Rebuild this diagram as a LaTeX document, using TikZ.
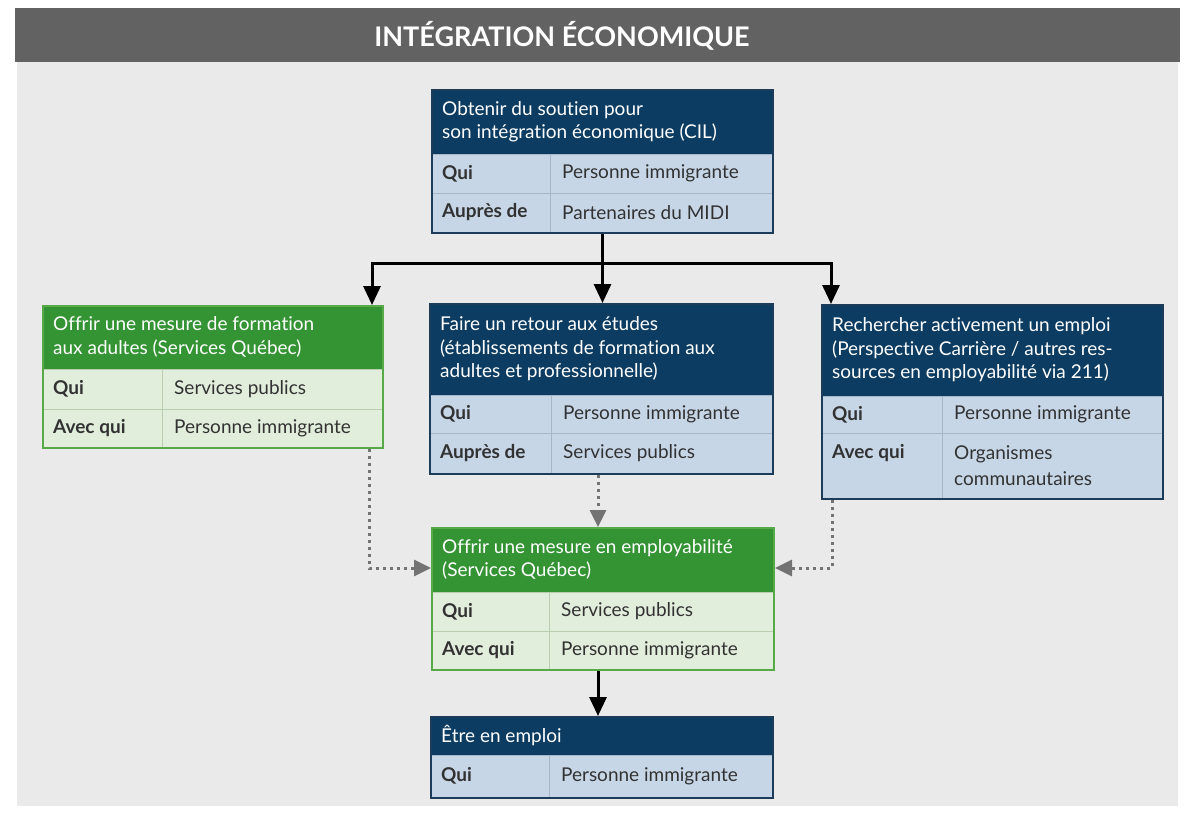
\documentclass[tikz,border=0pt]{standalone}
\usepackage{fontspec}
\setmainfont{Lato}[Ligatures=NoCommon]
\usetikzlibrary{arrows.meta}
\definecolor{cBlueHdr}{RGB}{12,60,98}
\definecolor{cBlueRow}{RGB}{199,214,231}
\definecolor{cBlueLine}{RGB}{28,60,90}
\definecolor{cBlueSep}{RGB}{165,182,202}
\definecolor{cGreenHdr}{RGB}{52,148,52}
\definecolor{cGreenRow}{RGB}{226,238,220}
\definecolor{cGreenLine}{RGB}{88,170,72}
\definecolor{cGreenSep}{RGB}{185,205,175}
\definecolor{cPanel}{RGB}{234,234,234}
\definecolor{cTitle}{RGB}{98,98,98}
\definecolor{cText}{RGB}{50,50,50}
\definecolor{cDot}{RGB}{115,115,115}
\tikzset{
  bluehdr/.style={fill=cBlueHdr},
  bluerow/.style={fill=cBlueRow},
  bluesep/.style={draw=cBlueSep,line width=1pt},
  bluebox/.style={draw=cBlueLine,line width=2pt,inner sep=0pt},
  greenhdr/.style={fill=cGreenHdr},
  greenrow/.style={fill=cGreenRow},
  greensep/.style={draw=cGreenSep,line width=1pt},
  greenbox/.style={draw=cGreenLine,line width=2pt,inner sep=0pt},
  hdrtxt/.style={anchor=west,inner sep=0pt,align=left,text=white,font=\fontsize{19}{23.5}\selectfont},
  lbl/.style={anchor=west,inner sep=0pt,text=cText,font=\fontsize{19}{23.5}\selectfont\bfseries},
  val/.style={anchor=west,inner sep=0pt,align=left,text=cText,font=\fontsize{19}{26}\selectfont},
  solidarrow/.style={line width=3pt,draw=black,-{Triangle[length=19pt,width=17pt]}},
  solidline/.style={line width=3pt,draw=black},
  dotarrow/.style={line width=3pt,draw=cDot,dash pattern=on 3pt off 4pt,-{Triangle[length=17pt,width=16pt,fill=cDot]}},
}
\newcommand{\mkhead}[7]{%
  \fill[#1hdr] (#3,#4) rectangle (#5,#6);
  \node[hdrtxt] (#2-h) at (#3+11,{(#4+#6)/2}) {#7};
}
\newcommand{\mkrow}[9]{%
  \fill[#1row] (#3,#4) rectangle (#5,#6);
  \draw[#1sep] (#3,#4) -- (#5,#4);
  \draw[#1sep] (#7,#4) -- (#7,#6);
  \node[lbl] (#2-l) at (#3+11,{(#4+#6)/2}) {#8};
  \node[val] (#2-v) at (#7+12,{(#4+#6)/2}) {#9};
}
\newcommand{\mkframe}[6]{%
  \node[#1box,minimum width=#5pt,minimum height=#6pt,anchor=north west] (#2) at (#3,#4) {};
}
\begin{document}
\begin{tikzpicture}[x=1pt,y=-1pt]
\useasboundingbox (0,0) rectangle (1192,814);
\fill[white] (0,0) rectangle (1192,814);
\fill[cPanel] (17,8) rectangle (1178,806);
\fill[cTitle] (15,8) rectangle (1180,62);
\node[text=white,font=\fontsize{27}{30}\selectfont\bfseries,inner sep=0pt] (title) at (562,36) {INTÉGRATION ÉCONOMIQUE};

% top box
\mkhead{blue}{top}{431}{89}{772}{154}{Obtenir du soutien pour\\son intégration économique (CIL)}
\mkrow{blue}{top1}{431}{154}{772}{193}{550}{Qui}{Personne immigrante}
\mkrow{blue}{top2}{431}{193}{772}{232}{550}{Auprès de}{Partenaires du MIDI}
\mkframe{blue}{top}{431}{89}{341}{143}

% left box
\mkhead{green}{left}{42}{305}{382}{369}{Offrir une mesure de formation\\aux adultes (Services Québec)}
\mkrow{green}{left1}{42}{369}{382}{409}{162}{Qui}{Services publics}
\mkrow{green}{left2}{42}{409}{382}{447}{162}{Avec qui}{Personne immigrante}
\mkframe{green}{left}{42}{305}{340}{142}

% middle box
\mkhead{blue}{mid}{429}{303}{772}{395}{Faire un retour aux études\\(établissements de formation aux\\adultes et professionnelle)}
\mkrow{blue}{mid1}{429}{395}{772}{433}{551}{Qui}{Personne immigrante}
\mkrow{blue}{mid2}{429}{433}{772}{473}{551}{Auprès de}{Services publics}
\mkframe{blue}{mid}{429}{303}{343}{170}

% right box
\mkhead{blue}{right}{821}{304}{1162}{396}{Rechercher activement un emploi\\(Perspective Carrière / autres res-\\sources en employabilité via 211)}
\mkrow{blue}{right1}{821}{396}{1162}{433}{942}{Qui}{Personne immigrante}
\fill[bluerow] (821,433) rectangle (1162,498);
\draw[bluesep] (821,433) -- (1162,433);
\draw[bluesep] (942,433) -- (942,498);
\node[lbl] (right2-l) at (832,453) {Avec qui};
\node[val] (right2-v) at (954,466) {Organismes\\communautaires};
\mkframe{blue}{right}{821}{304}{341}{194}

% employability box
\mkhead{green}{emp}{431}{527}{773}{592}{Offrir une mesure en employabilité\\(Services Québec)}
\mkrow{green}{emp1}{431}{592}{773}{631}{549}{Qui}{Services publics}
\mkrow{green}{emp2}{431}{631}{773}{669}{549}{Avec qui}{Personne immigrante}
\mkframe{green}{emp}{431}{527}{342}{142}

% bottom box
\mkhead{blue}{bot}{430}{716}{772}{755}{Être en emploi}
\mkrow{blue}{bot1}{430}{755}{772}{797}{549}{Qui}{Personne immigrante}
\mkframe{blue}{bot}{430}{716}{342}{81}

% connectors
\coordinate (hy) at (0,263);
\coordinate (split) at (top.south |- hy);
\coordinate (vx) at (598,0);
\draw[solidline] (top.south) -- (split);
\draw[solidarrow] (split) -- (split |- mid.north);
\draw[solidarrow] (split) -| ([xshift=-12pt]left.north east);
\draw[solidarrow] (split) -| ([xshift=10pt]right.north west);
\draw[dotarrow] ([xshift=-15pt]left.south east) |- ([yshift=-41pt]emp.north west);
\draw[dotarrow] ([xshift=11pt]right.south west) |- ([yshift=-41pt]emp.north east);
\draw[dotarrow] (mid.south -| vx) -- (emp.north -| vx);
\draw[solidarrow] (emp.south -| vx) -- (bot.north -| vx);
\end{tikzpicture}
\end{document}
